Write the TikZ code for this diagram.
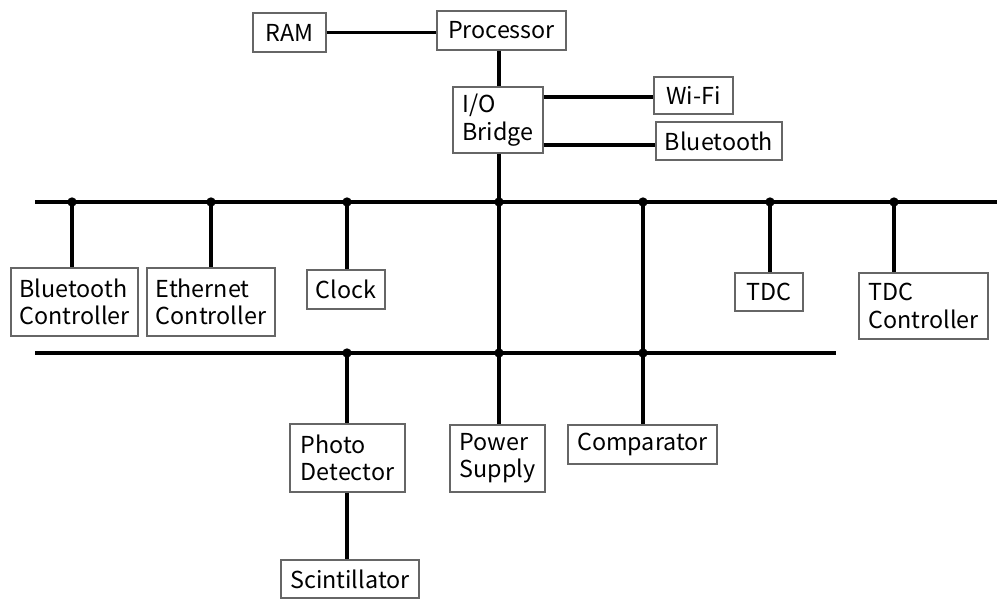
\documentclass[tikz,border=0pt]{standalone}
\usepackage{fontspec}
\setmainfont{Noto Sans CJK JP}
\begin{document}
\begin{tikzpicture}[x=0.75pt,y=-0.75pt,
  box/.style={draw=black!60, line width=0.9pt, inner sep=0pt, align=left,
    font=\fontsize{17.5}{20.5}\selectfont},
  wire/.style={line width=2.5pt, black},
  junction/.style={circle, fill=black, inner sep=0pt, minimum size=7pt}]
\useasboundingbox (0,0) rectangle (997,599);

% \mkbox{name}{x1}{y1}{x2}{y2}{text}: a framed block given by its corners (px)
\newcommand\mkbox[6]{%
  \node[box, minimum width={(#4-#2)*0.75pt}, minimum height={(#5-#3)*0.75pt}]
    (#1) at ({(#2+#4)/2},{(#3+#5)/2}) {#6};}

% blocks
\mkbox{ram}{253}{13}{326}{52}{RAM}
\mkbox{proc}{437}{11}{566}{50}{Processor}
\mkbox{iob}{453}{87}{543}{153}{I/O\\Bridge}
\mkbox{wifi}{654}{77}{733}{114}{Wi-Fi}
\mkbox{bt}{656}{122}{782}{160}{Bluetooth}
\mkbox{btc}{11}{268}{138}{336}{Bluetooth\\Controller}
\mkbox{eth}{147}{268}{275}{336}{Ethernet\\Controller}
\mkbox{clk}{307}{270}{385}{309}{Clock}
\mkbox{tdc}{735}{273}{803}{311}{TDC}
\mkbox{tdcc}{859}{273}{988}{339}{TDC\\Controller}
\mkbox{pd}{290}{424}{405}{492}{Photo\\Detector}
\mkbox{ps}{450}{425}{545}{492}{Power\\Supply}
\mkbox{cmp}{568}{425}{717}{464}{Comparator}
\mkbox{sc}{281}{560}{419}{598}{Scintillator}

% bus ends and taps
\coordinate (ua) at (35,202);
\coordinate (ub) at (997,202);
\coordinate (la) at (35,353);
\coordinate (lb) at (836,353);
\coordinate (u1) at (72,202);
\coordinate (u2) at (211,202);
\coordinate (u3) at (347,202);
\coordinate (u4) at (499,202);
\coordinate (u5) at (643,202);
\coordinate (u6) at (770,202);
\coordinate (u7) at (894,202);
\coordinate (l1) at (347,353);
\coordinate (l2) at (499,353);
\coordinate (l3) at (643,353);

% buses
\draw[wire] (ua) -- (ub);
\draw[wire] (la) -- (lb);

% top links
\draw[wire] (ram.east) -- (proc.west |- ram.east);
\draw[wire] (u4 |- proc.south) -- (u4 |- iob.north);
\draw[wire] (iob.east |- 0,97) -- (wifi.west |- 0,97);
\draw[wire] (iob.east |- 0,145) -- (bt.west |- 0,145);
\draw[wire] (u4 |- iob.south) -- (u4 |- ps.north);

% drops from the upper bus
\draw[wire] (u1) -- (u1 |- btc.north);
\draw[wire] (u2) -- (u2 |- eth.north);
\draw[wire] (u3) -- (u3 |- clk.north);
\draw[wire] (u5) -- (u5 |- cmp.north);
\draw[wire] (u6) -- (u6 |- tdc.north);
\draw[wire] (u7) -- (u7 |- tdcc.north);

% drops from the lower bus
\draw[wire] (l1) -- (l1 |- pd.north);
\draw[wire] (l1 |- pd.south) -- (l1 |- sc.north);

% junction dots
\foreach \p in {u1,u2,u3,u4,u5,u6,u7,l1,l2,l3}
  \node[junction] at (\p) {};
\end{tikzpicture}
\end{document}
